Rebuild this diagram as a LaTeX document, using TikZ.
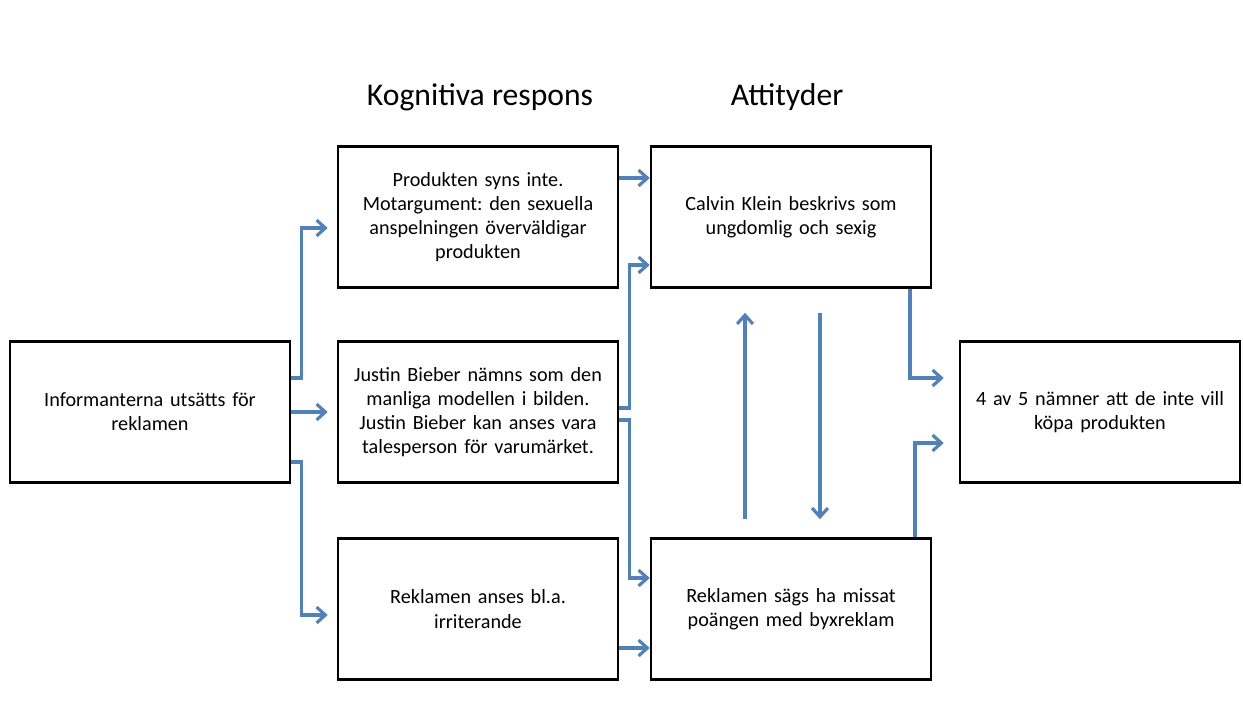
\documentclass[tikz,border=0pt]{standalone}
\usepackage{fontspec}
\setmainfont{Carlito}
\usepackage{xcolor}
\usepackage{tikz}
\usetikzlibrary{arrows.meta,positioning}
\definecolor{flowblue}{RGB}{79,129,189}
\frenchspacing

\begin{document}
\begin{tikzpicture}[x=0.02cm,y=-0.02cm,
  box node/.style={rectangle,draw,line width=1.5pt,minimum width=5.6cm,minimum height=2.82cm,
    text width=5.3cm,align=center,font=\fontsize{11.5}{13.8}\selectfont},
  head node/.style={font=\fontsize{18}{20}\selectfont},
  flow/.style={draw=flowblue,line width=1.8pt,-{Straight Barb[length=5pt,width=9pt]}}]

  \useasboundingbox (0,0) rectangle (1243,713);

  \node[head node] (kog) at (480, 97) {Kognitiva respons};
  \node[head node] (att) at (787, 97) {Attityder};

  \node[box node] (info) at (150, 412) {Informanterna utsätts för\\reklamen};

  \node[box node] (prod) at (478, 217) {Produkten syns inte.\\Motargument: den sexuella\\anspelningen överväldigar\\produkten};
  \node[box node] (bieber) at (478, 412) {Justin Bieber nämns som den\\manliga modellen i bilden.\\Justin Bieber kan anses vara\\talesperson för varumärket.};
  \node[box node] (irr) at (478, 609) {Reklamen anses bl.a.\\irriterande};

  \node[box node] (calvin) at (791, 217) {Calvin Klein beskrivs som\\ungdomlig och sexig};
  \node[box node] (missat) at (791, 609) {Reklamen sägs ha missat\\poängen med byxreklam};

  \node[box node] (kopa) at (1100, 412) {4 av 5 nämner att de inte vill\\köpa produkten};

  % kognitiva respons
  \draw[flow,shorten >=0.18cm] ([yshift=0.68cm]info.east) -- ++(10,0) |- ([yshift=-0.22cm]prod.west);
  \draw[flow,shorten >=0.18cm] (info.east) -- (bieber.west);
  \draw[flow,shorten >=0.18cm] ([yshift=-1.0cm]info.east) -- ++(10,0) |- ([yshift=-0.12cm]irr.west);

  % attityder
  \draw[flow] ([yshift=0.78cm]prod.east) -- ([yshift=0.78cm]calvin.west);
  \draw[flow] ([yshift=0.08cm]bieber.east) -- ++(10,0) |- ([yshift=-0.96cm]calvin.west);
  \draw[flow] ([yshift=-0.16cm]bieber.east) -- ++(10,0) |- ([yshift=0.62cm]missat.west);
  \draw[flow] ([yshift=-0.78cm]irr.east) -- ([yshift=-0.78cm]missat.west);

  \draw[flow,shorten <=0.36cm,shorten >=0.48cm] ([xshift=-0.92cm]missat.north) -- ([xshift=-0.92cm]calvin.south);
  \draw[flow,shorten <=0.48cm,shorten >=0.36cm] ([xshift=0.58cm]calvin.south) -- ([xshift=0.58cm]missat.north);

  % beteende
  \draw[flow,shorten >=0.3cm] ([xshift=2.38cm]calvin.south) |- ([yshift=0.68cm]kopa.west);
  \draw[flow,shorten >=0.3cm] ([xshift=2.48cm]missat.north) |- ([yshift=-0.62cm]kopa.west);

\end{tikzpicture}
\end{document}
